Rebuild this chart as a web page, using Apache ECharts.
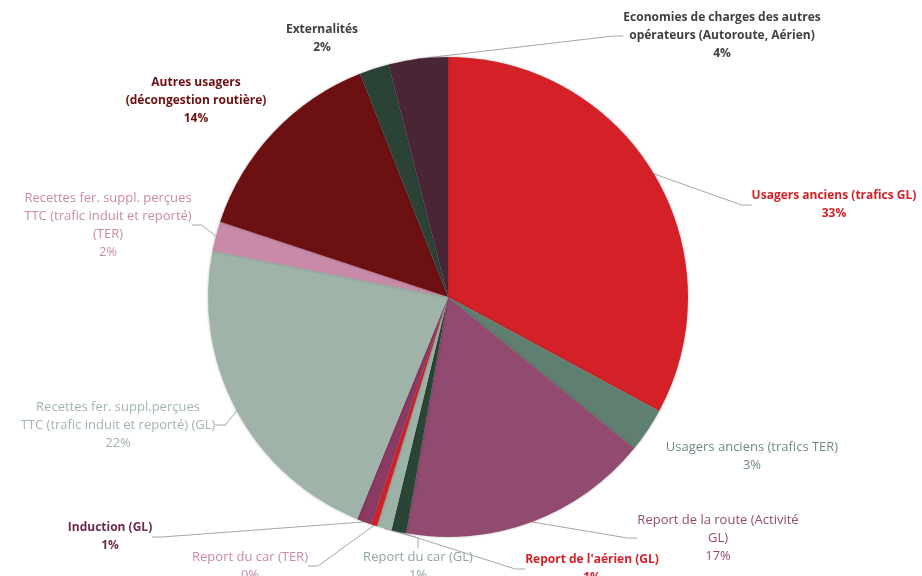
<!DOCTYPE html>
<html>
<head>
<meta charset="utf-8">
<script src="https://cdn.jsdelivr.net/npm/echarts@6/dist/echarts.min.js"></script>
<style>
  html, body { margin: 0; padding: 0; background: #ffffff; }
  #chart { width: 922px; height: 576px; }
</style>
</head>
<body>
<div id="chart"></div>
<script>
// Slice names (with their display line breaks), clockwise from 12 o'clock
const categories = [
  'Usagers anciens (trafics GL)',
  'Usagers anciens (trafics TER)',
  'Report de la route (Activité\nGL)',
  "Report de l'aérien (GL)",
  'Report du car (GL)',
  'Report du car (TER)',
  'Induction (GL)',
  'Recettes fer. suppl.perçues\nTTC (trafic induit et reporté) (GL)',
  'Recettes fer. suppl. perçues\nTTC (trafic induit et reporté)\n(TER)',
  'Autres usagers\n(décongestion routière)',
  'Externalités',
  'Economies de charges des autres\nopérateurs (Autoroute, Aérien)'
];

// Share of each item, in percent
const shares = [33, 3, 17, 1, 1, 0.4, 1, 22, 2, 14, 2, 4];

// Slice fill colours
const sliceColors = [
  '#d42128', '#5f8070', '#914b70', '#2a4536', '#9db2a6', '#d42128',
  '#8a3a63', '#9fb3a8', '#c98aa9', '#6d1012', '#2b4337', '#4a2536'
];

// Label text colours; bold labels are set a little smaller than regular ones
const labelColors = [
  '#d42128', '#6f8c7e', '#914b70', '#d42128', '#8fa69a', '#c98aa9',
  '#6b2a4d', '#a3b6ab', '#c98aa9', '#6d1012', '#404040', '#404040'
];
const labelBold = [true, false, false, true, false, false, true, false, false, true, true, true];

// Whether a leader line joins the label to its slice
const showLeader = [true, false, true, true, true, true, true, true, true, false, false, true];

// Label anchor points (centre of each text block)
const labelAnchors = [
  [834, 205], [752, 456], [718, 538], [592, 569], [418, 566], [250, 566],
  [110, 537], [118, 425], [108, 225], [196, 101], [322, 39], [722, 36]
];

const data = categories.map((name, i) => ({
  name: name,
  value: shares[i],
  itemStyle: { color: sliceColors[i] },
  label: {
    color: labelColors[i],
    fontWeight: labelBold[i] ? 'bold' : 'normal',
    fontSize: labelBold[i] ? 12 : 13
  },
  labelLine: { show: showLeader[i] }
}));

const chart = echarts.init(document.getElementById('chart'), null, { renderer: 'canvas' });

chart.setOption({
  backgroundColor: '#ffffff',
  animation: false,
  series: [{
    type: 'pie',
    center: [448, 297],
    radius: 240,
    startAngle: 90,
    clockwise: true,
    avoidLabelOverlap: false,
    data: data,
    itemStyle: {
      borderWidth: 0,
      shadowBlur: 3,
      shadowColor: 'rgba(0,0,0,0.25)'
    },
    label: {
      show: true,
      position: 'outside',
      fontFamily: 'Open Sans',
      fontSize: 12,
      lineHeight: 18,
      align: 'center',
      formatter: p => p.name + '\n' + Math.round(p.value) + '%'
    },
    labelLine: {
      show: true,
      length: 10,
      length2: 10,
      lineStyle: { color: '#a6a6a6', width: 1 }
    },
    labelLayout: params => {
      const a = labelAnchors[params.dataIndex];
      return { x: a[0], y: a[1], align: 'center', verticalAlign: 'middle' };
    }
  }]
});
</script>
</body>
</html>
